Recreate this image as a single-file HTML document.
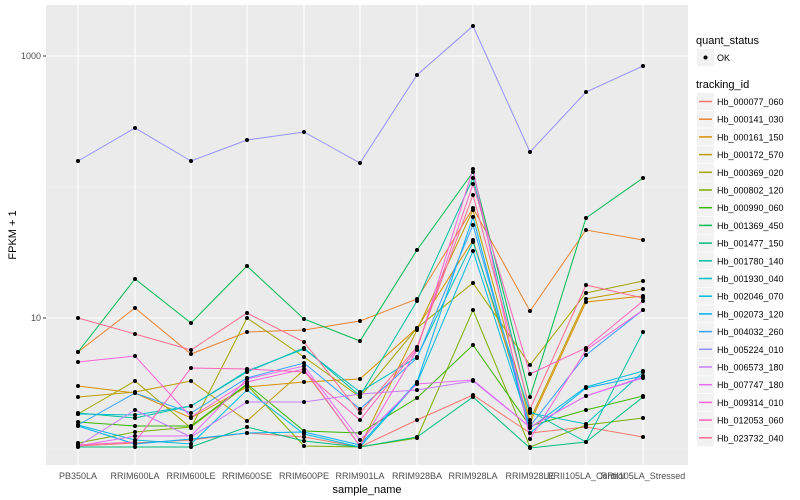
<!DOCTYPE html>
<html><head><meta charset="utf-8"><style>body{margin:0;background:#fff}svg{display:block;font-family:"Liberation Sans",sans-serif}</style></head><body>
<svg width="800" height="500" viewBox="0 0 800 500">
<rect x="0" y="0" width="800" height="500" fill="#fff"/>
<rect x="46" y="5" width="642" height="460" fill="#EBEBEB"/>
<g stroke="#F7F7F7" stroke-width="0.6"><line x1="46" x2="688" y1="187" y2="187"/><line x1="46" x2="688" y1="449" y2="449"/></g>
<g stroke="#fff" stroke-width="1.1">
<line x1="46" x2="688" y1="56" y2="56"/><line x1="46" x2="688" y1="318" y2="318"/>
<line x1="78" x2="78" y1="5" y2="465"/><line x1="135" x2="135" y1="5" y2="465"/><line x1="191" x2="191" y1="5" y2="465"/><line x1="247" x2="247" y1="5" y2="465"/><line x1="304" x2="304" y1="5" y2="465"/><line x1="360" x2="360" y1="5" y2="465"/><line x1="417" x2="417" y1="5" y2="465"/><line x1="473" x2="473" y1="5" y2="465"/><line x1="530" x2="530" y1="5" y2="465"/><line x1="586" x2="586" y1="5" y2="465"/><line x1="643" x2="643" y1="5" y2="465"/>
</g>
<g id="lines" fill="none" stroke-width="1"></g>
<g id="pts" fill="#000"></g>
<g stroke="#333" stroke-width="1"><line x1="43" x2="46" y1="56" y2="56"/><line x1="43" x2="46" y1="318" y2="318"/></g>
<g font-size="9" fill="#4D4D4D" text-anchor="end"><text x="41" y="59">1000</text><text x="41" y="321">10</text></g>
<g font-size="9" fill="#4D4D4D" text-anchor="middle">
<text x="78" y="479">PB350LA</text><text x="135" y="479">RRIM600LA</text><text x="191" y="479">RRIM600LE</text><text x="247" y="479">RRIM600SE</text><text x="304" y="479">RRIM600PE</text><text x="360" y="479">RRIM901LA</text><text x="417" y="479">RRIM928BA</text><text x="473" y="479">RRIM928LA</text><text x="530" y="479">RRIM928LE</text><text x="586" y="479">RRII105LA_Control</text><text x="643" y="479">RRII105LA_Stressed</text>
</g>
<text x="367" y="493" font-size="11" text-anchor="middle" fill="#000">sample_name</text>
<text transform="translate(16,235) rotate(-90)" font-size="11" text-anchor="middle" fill="#000">FPKM + 1</text>
<text x="696" y="44" font-size="11" fill="#000">quant_status</text>
<rect x="697" y="49" width="17" height="17" fill="#F2F2F2"/><circle cx="705.5" cy="57.5" r="2" fill="#000"/>
<text x="717" y="61" font-size="9" fill="#000">OK</text>
<text x="696" y="88" font-size="11" fill="#000">tracking_id</text>
<g id="leg"></g>
</svg>
<script>
var X=[78,135,191,247,304,360,417,473,530,586,643];
var C=["#F8766D","#EA8331","#D89000","#C09B00","#A3A500","#7CAE00","#39B600","#00BB4E","#00BF7D","#00C1A3","#00BFC4","#00BAE0","#00B0F6","#35A2FF","#9590FF","#C77CFF","#E76BF3","#FA62DB","#FF62BC","#FF6C91"];
var N=["Hb_000077_060","Hb_000141_030","Hb_000161_150","Hb_000172_570","Hb_000369_020","Hb_000802_120","Hb_000990_060","Hb_001369_450","Hb_001477_150","Hb_001780_140","Hb_001930_040","Hb_002046_070","Hb_002073_120","Hb_004032_260","Hb_005224_010","Hb_006573_180","Hb_007747_180","Hb_009314_010","Hb_012053_060","Hb_023732_040"];
var D=[
[446,443,440,433,437,447,420,395,433,427,437],
[352,308,354,332,330,321,299,208,311,230,240],
[386,393,418,387,382,379,328,240,423,302,296],
[397,392,381,421,370,446,330,210,420,299,289],
[414,381,428,318,357,397,328,283,365,293,281],
[443,432,427,385,446,447,438,310,447,425,418],
[422,426,426,384,431,433,398,345,426,410,396],
[352,279,323,266,319,341,250,172,397,218,178],
[447,447,447,427,441,447,437,397,448,442,397],
[413,418,406,372,348,396,301,178,411,442,332],
[414,415,406,371,349,392,357,242,413,424,372],
[425,440,444,390,434,447,383,251,428,387,371],
[426,444,439,433,432,445,382,217,433,388,376],
[425,393,413,378,363,409,358,225,426,355,310],
[161,128,161,140,132,163,75,26,152,92,66],
[446,410,437,402,402,394,390,381,427,396,378],
[446,436,436,379,366,440,384,380,427,396,377],
[362,356,417,382,369,446,350,169,439,350,310],
[445,442,368,369,372,420,349,184,374,348,301],
[318,334,350,313,342,413,347,195,409,285,298]];
var ns="http://www.w3.org/2000/svg",L=document.getElementById("lines"),P=document.getElementById("pts"),G=document.getElementById("leg");
D.forEach(function(r,i){var p=document.createElementNS(ns,"polyline");p.setAttribute("points",r.map(function(y,j){return X[j]+","+y}).join(" "));p.setAttribute("stroke",C[i]);L.appendChild(p);
r.forEach(function(y,j){var c=document.createElementNS(ns,"circle");c.setAttribute("cx",X[j]);c.setAttribute("cy",y);c.setAttribute("r",2);P.appendChild(c);});
var yy=93+i*17.7;var b=document.createElementNS(ns,"rect");b.setAttribute("x",697);b.setAttribute("y",yy);b.setAttribute("width",17);b.setAttribute("height",17);b.setAttribute("fill","#F2F2F2");G.appendChild(b);
var l=document.createElementNS(ns,"line");l.setAttribute("x1",699);l.setAttribute("x2",712);l.setAttribute("y1",yy+8.5);l.setAttribute("y2",yy+8.5);l.setAttribute("stroke",C[i]);l.setAttribute("stroke-width",1.5);G.appendChild(l);
var t=document.createElementNS(ns,"text");t.setAttribute("x",717);t.setAttribute("y",yy+12);t.setAttribute("font-size",9);t.textContent=N[i];G.appendChild(t);});
</script>
</body></html>
